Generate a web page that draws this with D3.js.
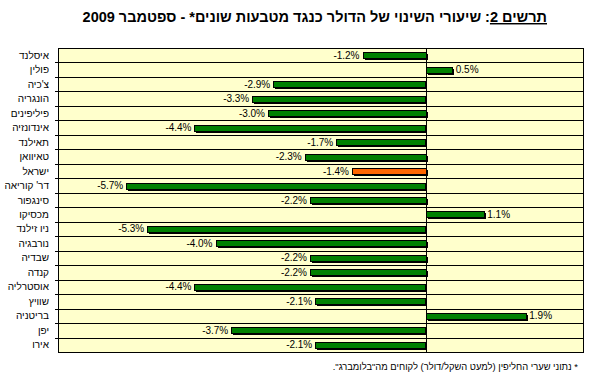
<!DOCTYPE html>
<html>
<head>
<meta charset="utf-8">
<script src="https://cdn.jsdelivr.net/npm/d3@7"></script>
<style>
  body { margin: 0; background: #fff; }
  text { font-family: "Liberation Sans", Arial, sans-serif; }
</style>
</head>
<body>
<svg id="chart"></svg>
<script>
// Categories, top to bottom
const countries = ["איסלנד", "פולין", "צ'כיה", "הונגריה", "פיליפינים", "אינדונזיה", "תאילנד",
  "טאיוואן", "ישראל", "דר' קוריאה", "סינגפור", "מכסיקו", "ניו זילנד", "נורבגיה", "שבדיה",
  "קנדה", "אוסטרליה", "שוויץ", "בריטניה", "יפן", "אירו"];
// Percentage change of the dollar
const changes = [-1.2, 0.5, -2.9, -3.3, -3.0, -4.4, -1.7, -2.3, -1.4, -5.7, -2.2, 1.1, -5.3,
  -4.0, -2.2, -2.2, -4.4, -2.1, 1.9, -3.7, -2.1];
const highlight = ["ישראל"];

const titleMain = "תרשים 2";
const titleRest = ": שיעורי השינוי של הדולר כנגד מטבעות שונים* - ספטמבר 2009";
const footnote = '* נתוני שערי החליפין (למעט השקל/דולר) לקוחים מה"בלומברג".';

const config = {
  width: 597, height: 376,
  margin: { top: 48, right: 14, bottom: 24, left: 58 }
};

const data = countries.map((c, i) => ({ name: c, value: changes[i] }));

const svg = d3.select('#chart')
  .attr('width', config.width)
  .attr('height', config.height);

const width = config.width - config.margin.left - config.margin.right;
const height = config.height - config.margin.top - config.margin.bottom;

const xScale = d3.scaleLinear().domain([-7, 3]).range([0, width]);
const yScale = d3.scaleBand().domain(countries).range([0, height]);

const chart = svg.append('g')
  .attr('transform', `translate(${config.margin.left},${config.margin.top})`);

// Plot background
chart.append('rect')
  .attr('width', width)
  .attr('height', height)
  .attr('fill', '#ffffcc');

// Horizontal gridlines at row boundaries (with small ticks to the left)
const bounds = countries.slice(1).map(c => yScale(c));
chart.selectAll('.grid')
  .data(bounds)
  .join('line')
  .attr('class', 'grid')
  .attr('x1', -3).attr('x2', width)
  .attr('y1', d => Math.round(d) + 0.5)
  .attr('y2', d => Math.round(d) + 0.5)
  .attr('stroke', '#000')
  .attr('stroke-width', 1);

const x0 = Math.round(xScale(0)) + 0.5;

// Bars
const barH = 6;
const barY = d => Math.round(yScale(d.name) + yScale.bandwidth() / 2 - barH / 2);
const barX = d => Math.round(Math.min(xScale(0), xScale(d.value)));
const barW = d => Math.round(Math.abs(xScale(d.value) - xScale(0)));

// shadow
chart.selectAll('.shadow')
  .data(data)
  .join('rect')
  .attr('class', 'shadow')
  .attr('x', d => barX(d) + 2)
  .attr('y', d => barY(d) + 2)
  .attr('width', d => barW(d))
  .attr('height', barH)
  .attr('fill', '#000');

chart.selectAll('.bar')
  .data(data)
  .join('rect')
  .attr('class', 'bar')
  .attr('x', d => barX(d) + 0.5)
  .attr('y', d => barY(d) + 0.5)
  .attr('width', d => barW(d))
  .attr('height', barH)
  .attr('fill', d => highlight.includes(d.name) ? '#ff6600' : '#008000')
  .attr('stroke', '#000')
  .attr('stroke-width', 1);

// Zero line over bars
chart.append('line')
  .attr('x1', x0).attr('x2', x0)
  .attr('y1', 0).attr('y2', height)
  .attr('stroke', '#000');

// Value labels
chart.selectAll('.val')
  .data(data)
  .join('text')
  .attr('class', 'val')
  .attr('x', d => d.value < 0 ? xScale(d.value) - 3 : xScale(d.value) + 4)
  .attr('y', d => yScale(d.name) + yScale.bandwidth() / 2 + 3.5)
  .attr('text-anchor', d => d.value < 0 ? 'end' : 'start')
  .style('font-size', '10px')
  .text(d => d.value.toFixed(1) + '%');

// Plot border
chart.append('rect')
  .attr('x', 0.5).attr('y', 0.5)
  .attr('width', width).attr('height', height)
  .attr('fill', 'none')
  .attr('stroke', '#000');

// Category labels
chart.selectAll('.cat')
  .data(countries)
  .join('text')
  .attr('class', 'cat')
  .attr('x', -9)
  .attr('y', d => yScale(d) + yScale.bandwidth() / 2 + 3.5)
  .attr('direction', 'rtl')
  .attr('text-anchor', 'start')
  .style('font-size', '10px')
  .text(d => d);

// Title
const title = svg.append('text')
  .attr('x', 547)
  .attr('y', 22)
  .attr('direction', 'rtl')
  .attr('text-anchor', 'start')
  .style('font-size', '14.5px')
  .style('font-weight', 'bold');
title.append('tspan')
  .style('text-decoration', 'underline')
  .text(titleMain);
title.append('tspan')
  .text(titleRest);

// Footnote
svg.append('text')
  .attr('x', 578)
  .attr('y', 370)
  .attr('direction', 'rtl')
  .attr('text-anchor', 'start')
  .style('font-size', '9.4px')
  .text(footnote);
</script>
</body>
</html>
